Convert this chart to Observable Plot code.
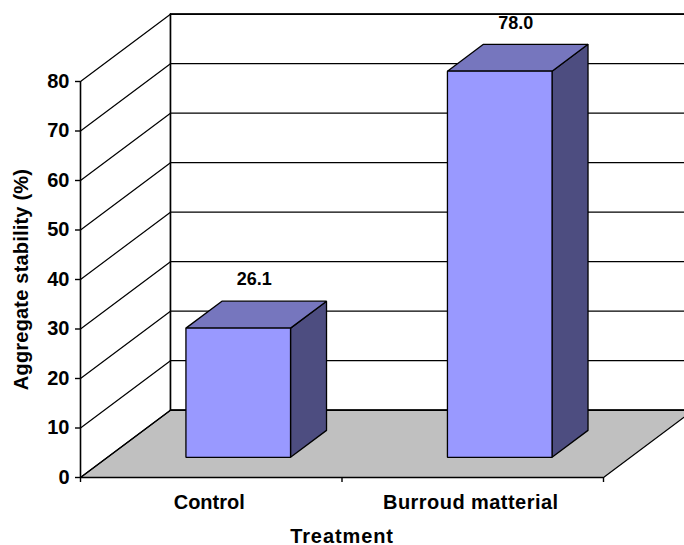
<!DOCTYPE html>
<html>
<head>
<meta charset="utf-8">
<script src="https://cdn.jsdelivr.net/npm/d3@7"></script>
<script src="https://cdn.jsdelivr.net/npm/@observablehq/plot@0.6"></script>
<style>
html,body{margin:0;padding:0;background:#fff;overflow:hidden}
svg{display:block}
</style>
</head>
<body>
<div id="chart"></div>
<script>
const categories = ["Control", "Burroud matterial"];
const values = [26.1, 78.0];
const valueLabels = ["26.1", "78.0"];
const yTicks = [0, 10, 20, 30, 40, 50, 60, 70, 80];
const xTicks = [0, 1, 2];
const xTitle = "Treatment";
const yTitle = "Aggregate stability (%)";

const colFront = "#9999FF", colTop = "#7676BE", colSide = "#4D4D80", colFloor = "#C0C0C0";

// oblique projection: one unit of depth moves a point right (category units) and up (value units)
const depthX = 0.344, depthY = 13.6;
const barWidth = 0.4, depthFront = 0.3, depthBack = 0.7;
const P = (c, v, d) => ({x: c + d * depthX, y: v + d * depthY});

const poly = (id, pts) => pts.map(([c, v, d]) => ({id, ...P(c, v, d)}));
const seg = (id, a, b) => [{id, ...P(...a)}, {id, ...P(...b)}];

const floor = poly("floor", [[0,0,0],[2,0,0],[2,0,1],[0,0,1]]);
const backGrid = yTicks.flatMap(t => seg("b" + t, [0,t,1], [2,t,1]));
const sideGrid = yTicks.flatMap(t => seg("s" + t, [0,t,0], [0,t,1]));
const wallEdge = seg("w", [0,0,1], [0,80,1]);
const floorEdge = [...seg("r", [2,0,0], [2,0,1]), ...seg("l", [0,0,0], [0,0,1])];

const fronts = [], tops = [], sides = [];
categories.forEach((c, i) => {
  const a = i + 0.5 - barWidth / 2, b = i + 0.5 + barWidth / 2, v = values[i];
  fronts.push(...poly("f" + i, [[a,0,depthFront],[b,0,depthFront],[b,v,depthFront],[a,v,depthFront]]));
  tops.push(...poly("t" + i, [[a,v,depthFront],[b,v,depthFront],[b,v,depthBack],[a,v,depthBack]]));
  sides.push(...poly("s" + i, [[b,0,depthFront],[b,0,depthBack],[b,v,depthBack],[b,v,depthFront]]));
});
const labels = categories.map((c, i) => ({label: valueLabels[i], ...P(i + 0.5, values[i], 0.5)}));
const catLabels = categories.map((c, i) => ({label: c, x: i + 0.5, y: 0}));

const face = (data, fill) => Plot.line(data, {x: "x", y: "y", z: "id", curve: "linear-closed", fill, stroke: "#000", strokeWidth: 1.3, strokeLinejoin: "miter"});
const lines = (data, w) => Plot.line(data, {x: "x", y: "y", z: "id", stroke: "#000", strokeWidth: w});

const plot = Plot.plot({
  width: 684, height: 545,
  marginLeft: 80, marginRight: 81, marginTop: 81, marginBottom: 68,
  style: {fontFamily: "'Liberation Sans', Arial, sans-serif", fontWeight: "bold", fontSize: "20px", background: "#fff", color: "#000", overflow: "hidden"},
  x: {domain: [0, 2]},
  y: {domain: [0, 80]},
  marks: [
    Plot.line(floor, {x: "x", y: "y", z: "id", curve: "linear-closed", fill: colFloor, stroke: "none"}),
    lines(backGrid, 1.2),
    lines(sideGrid, 1.2),
    lines(wallEdge, 1.7),
    lines(floorEdge, 1.2),
    lines(seg("b0", [0,0,1], [2,0,1]), 1.7),
    lines(seg("b80", [0,80,1], [2,80,1]), 1.7),
    face(sides, colSide),
    face(tops, colTop),
    face(fronts, colFront),
    Plot.ruleX([0], {y1: 0, y2: 80, stroke: "#000", strokeWidth: 1.6}),
    Plot.ruleY([0], {x1: 0, x2: 2, stroke: "#000", strokeWidth: 1.6}),
    Plot.axisY({ticks: yTicks, tickSize: 5, tickPadding: 6, strokeWidth: 1.4, fontSize: 20, fontWeight: "bold", label: yTitle, labelAnchor: "center", labelArrow: "none", labelOffset: 67}),
    Plot.axisX({ticks: xTicks, tickSize: 5, strokeWidth: 1.4, tickFormat: () => "", label: xTitle, labelAnchor: "center", labelArrow: "none", labelOffset: 65, fontSize: 20, fontWeight: "bold"}),
    Plot.text(catLabels, {x: "x", y: "y", text: "label", dx: -2, dy: 25, fontSize: 20, fontWeight: "bold"}),
    Plot.text(labels, {x: "x", y: "y", text: "label", dx: -2, dy: -35, fontSize: 18, fontWeight: "bold"})
  ]
});
const spacing = new Map([["Burroud matterial", "0.45px"], ["Treatment", "0.9px"], ["Aggregate stability (%)", "0.2px"]]);
d3.select(plot).selectAll("text, tspan").filter(function () { return spacing.has(this.textContent); })
  .style("letter-spacing", function () { return spacing.get(this.textContent); });
document.getElementById("chart").appendChild(plot);
</script>
</body>
</html>
